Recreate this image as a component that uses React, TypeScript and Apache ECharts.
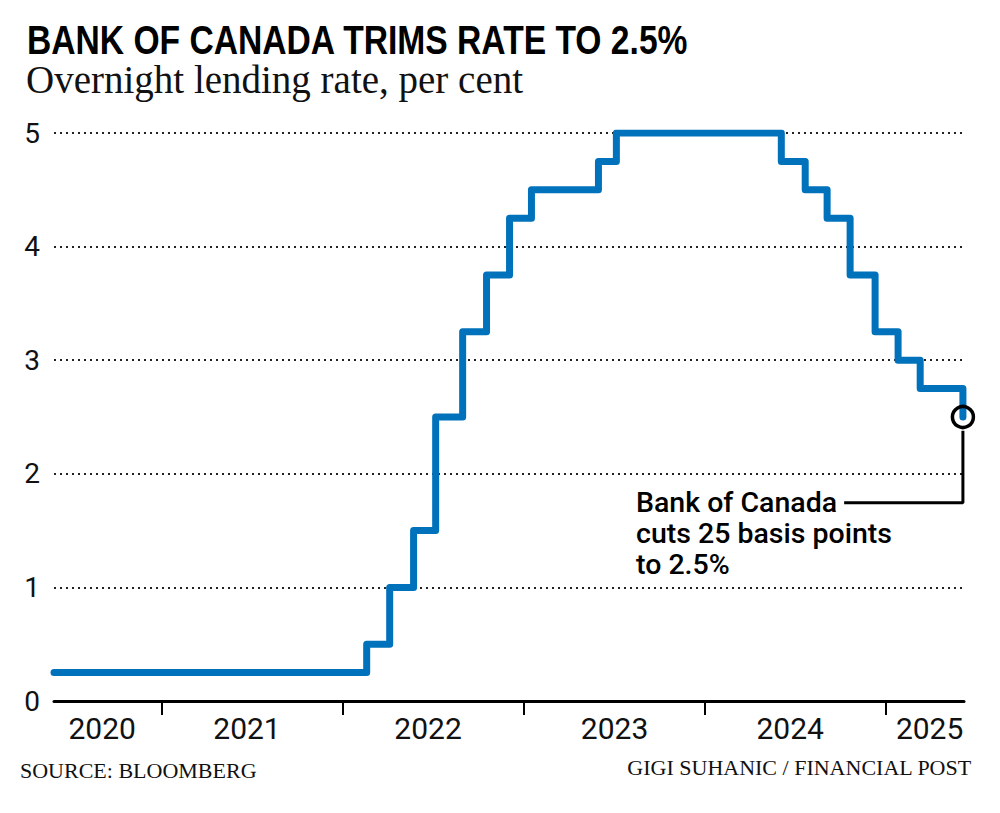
import React, { useEffect, useRef } from "react";
import * as echarts from "echarts";

// Rate decisions: x position on the chart's year axis and new rate
const DECISION_X = [
  2020.404, 2022.131, 2022.258, 2022.39, 2022.512, 2022.661, 2022.793, 2022.92,
  2023.041, 2023.411, 2023.51, 2024.421, 2024.553, 2024.674, 2024.801, 2024.939,
  2025.066, 2025.188, 2025.424,
];
const RATE = [
  0.25, 0.5, 1.0, 1.5, 2.5, 3.25, 3.75, 4.25, 4.5, 4.75, 5.0, 4.75, 4.5, 4.25,
  3.75, 3.25, 3.0, 2.75, 2.5,
];
const X_MIN = 2020.404;
const X_MAX = 2025.43;
const YEAR_TICKS = [2021, 2022, 2023, 2024, 2025];
const YEAR_LABEL_POS = [2020.67, 2021.47, 2022.47, 2023.5, 2024.47, 2025.24];
const CONNECTOR_X = [2025.424, 2025.424, 2024.768];
const CONNECTOR_Y = [2.38, 1.746, 1.746];

const SANS = "Roboto, 'Liberation Sans', sans-serif";
const SERIF = "'Liberation Serif', 'Times New Roman', serif";
const BLUE = "#0072bc";

export default function App() {
  const ref = useRef<HTMLDivElement>(null);
  useEffect(() => {
    if (!ref.current) return;
    const chart = echarts.init(ref.current, undefined, { renderer: "svg" });
    const lastX = DECISION_X[DECISION_X.length - 1];
    const lastY = RATE[RATE.length - 1];
    chart.setOption({
      animation: false,
      backgroundColor: "#ffffff",
      title: [
        {
          text: "Overnight lending rate, per cent",
          left: 26,
          top: 62,
          padding: 0,
          textStyle: { fontFamily: SERIF, fontWeight: "normal", fontSize: 39, lineHeight: 34, color: "#111" },
        },
        {
          text: "SOURCE: BLOOMBERG",
          left: 20,
          top: 759,
          padding: 0,
          textStyle: { fontFamily: SERIF, fontWeight: "normal", fontSize: 22, color: "#111" },
        },
        {
          text: "GIGI SUHANIC / FINANCIAL POST",
          right: 28,
          top: 756,
          padding: 0,
          textStyle: { fontFamily: SERIF, fontWeight: "normal", fontSize: 22, color: "#111" },
        },
      ],
      grid: { left: 54, right: 36, top: 133, bottom: 112, outerBoundsMode: "none" },
      xAxis: {
        type: "value",
        min: X_MIN,
        max: X_MAX,
        axisLine: { show: true, lineStyle: { color: "#000", width: 3 } },
        axisTick: {
          show: true,
          customValues: YEAR_TICKS,
          length: 14,
          inside: false,
          lineStyle: { color: "#000", width: 2 },
        },
        axisLabel: {
          customValues: YEAR_LABEL_POS,
          formatter: (v: number) => String(Math.floor(v)),
          fontFamily: SANS,
          fontSize: 30,
          color: "#111",
          margin: 12,
        },
        splitLine: { show: false },
      },
      yAxis: {
        type: "value",
        min: 0,
        max: 5,
        interval: 1,
        axisLine: { show: false },
        axisTick: { show: false },
        axisLabel: {
          fontFamily: SANS,
          fontSize: 28,
          color: "#111",
          margin: 14,
          padding: [8, 0, 0, 0],
        },
        splitLine: { show: true, lineStyle: { color: "#222", width: 2, type: [2, 4] } },
      },
      series: [
        {
          type: "line",
          step: "end",
          data: DECISION_X.map((x, i) => [x, RATE[i]]),
          symbol: "none",
          lineStyle: { color: BLUE, width: 7, cap: "round", join: "round" },
          z: 2,
        },
        {
          type: "line",
          data: CONNECTOR_X.map((x, i) => [x, CONNECTOR_Y[i]]),
          symbol: "none",
          lineStyle: { color: "#000", width: 3 },
          z: 3,
        },
        {
          type: "scatter",
          data: [[lastX, lastY]],
          symbol: "circle",
          symbolSize: 21,
          itemStyle: { color: "rgba(255,255,255,0)", borderColor: "#000", borderWidth: 3.5, opacity: 1 },
          z: 4,
        },
      ],
      graphic: [
        {
          type: "text",
          x: 27,
          y: 23,
          scaleX: 0.82,
          style: {
            text: "BANK OF CANADA TRIMS RATE TO 2.5%",
            fontFamily: "'Liberation Sans', Arial, sans-serif",
            fontWeight: "bold",
            fontSize: 41,
            lineHeight: 34,
            fill: "#000",
            verticalAlign: "top",
            align: "left",
          },
        },
        {
          type: "text",
          left: 636,
          top: 487,
          style: {
            text: "Bank of Canada\ncuts 25 basis points\nto 2.5%",
            fontFamily: SANS,
            fontWeight: 500,
            fontSize: 28.5,
            lineHeight: 31,
            fill: "#000",
          },
        },
      ],
    });
    return () => chart.dispose();
  }, []);
  return (
    <div
      ref={ref}
      style={{ position: "fixed", left: 0, top: 0, width: 1000, height: 813, background: "#fff" }}
    />
  );
}
